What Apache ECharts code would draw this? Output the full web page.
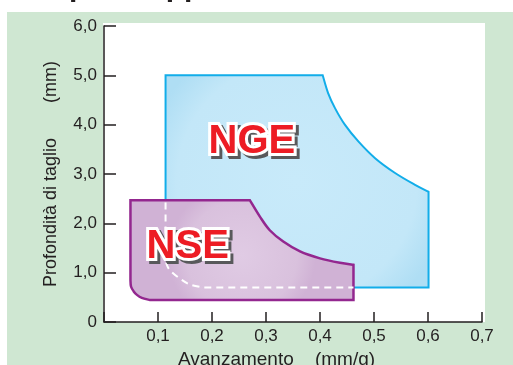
<!DOCTYPE html>
<html><head><meta charset="utf-8">
<script src="https://cdn.jsdelivr.net/npm/echarts@6/dist/echarts.min.js"></script>
<style>html,body{margin:0;padding:0;background:#fff}#c{width:513px;height:365px}</style>
</head><body><div id="c"></div>
<script>
// tick labels
const xTickLabels = ['', '0,1', '0,2', '0,3', '0,4', '0,5', '0,6', '0,7'];
const yTickLabels = ['0', '1,0', '2,0', '3,0', '4,0', '5,0', '6,0'];

// NGE region boundary (feed mm/g, depth mm)
const ngeX = [0.114, 0.405, 0.415, 0.428, 0.446, 0.471, 0.502, 0.539, 0.576, 0.601, 0.601, 0.184, 0.159, 0.138, 0.122, 0.116, 0.114];
const ngeY = [5.00, 5.00, 4.64, 4.33, 4.00, 3.66, 3.32, 3.02, 2.78, 2.64, 0.70, 0.70, 0.76, 0.90, 1.05, 1.17, 1.32];

// NSE region boundary
const nseX = [0.049, 0.270, 0.289, 0.307, 0.332, 0.363, 0.400, 0.437, 0.462, 0.462, 0.085, 0.070, 0.061, 0.055, 0.050, 0.049];
const nseY = [2.47, 2.47, 2.13, 1.86, 1.63, 1.43, 1.29, 1.20, 1.16, 0.446, 0.446, 0.49, 0.55, 0.62, 0.72, 0.85];

// hidden part of NGE boundary (dashed, over NSE)
const dashX = [0.114, 0.114, 0.116, 0.122, 0.138, 0.159, 0.184, 0.462];
const dashY = [2.42, 1.32, 1.17, 1.05, 0.90, 0.76, 0.70, 0.70];

// region labels
const labelNames = ['NGE', 'NSE'];
const labelX = [0.274, 0.155];
const labelY = [3.65, 1.52];

const FONT = '"Liberation Sans", Arial, Helvetica, sans-serif';
const INK = '#231f20';

const chart = echarts.init(document.getElementById('c'), null, {renderer: 'canvas'});

function pts(api, xs, ys) {
  return xs.map((x, i) => api.coord([x, ys[i]]));
}
// straight edges, Catmull-Rom curves on the given index runs
function buildPath(P, runs, close) {
  let d = 'M' + P[0][0] + ' ' + P[0][1];
  for (let i = 0; i < P.length - 1; i++) {
    const run = runs.find(r => i >= r[0] && i < r[1]);
    const c = P[i + 1];
    if (run) {
      const a = P[Math.max(i - 1, run[0])], b = P[i], e = P[Math.min(i + 2, run[1])];
      const c1 = [b[0] + (c[0] - a[0]) / 6, b[1] + (c[1] - a[1]) / 6];
      const c2 = [c[0] - (e[0] - b[0]) / 6, c[1] - (e[1] - b[1]) / 6];
      d += ' C' + c1[0] + ' ' + c1[1] + ' ' + c2[0] + ' ' + c2[1] + ' ' + c[0] + ' ' + c[1];
    } else {
      d += ' L' + c[0] + ' ' + c[1];
    }
  }
  if (close) d += ' Z';
  return d;
}

const option = {
  backgroundColor: '#ffffff',
  animation: false,
  graphic: [
    {type: 'rect', z: -20, silent: true, shape: {x: 7, y: 12, width: 506, height: 353}, style: {fill: '#cfe7d2'}},
    {type: 'rect', z: -19, silent: true, shape: {x: 103, y: 23, width: 382, height: 299}, style: {fill: '#ffffff'}},
    {type: 'text', z: 50, x: 4, y: -12, style: {text: 'Campo di applicazione', font: 'bold 30px ' + FONT, fill: '#231f20', align: 'left', verticalAlign: 'middle'}}
  ],
  grid: {left: 104, right: 31, top: 26, bottom: 43, containLabel: false, outerBoundsMode: 'none'},
  xAxis: {
    type: 'value', min: 0, max: 0.7, interval: 0.1,
    name: 'Avanzamento    (mm/g)', nameLocation: 'middle', nameGap: 23,
    nameTextStyle: {color: INK, fontSize: 19, fontFamily: FONT, padding: [0, 33, 0, 0]},
    axisLine: {show: true, onZero: false, lineStyle: {color: INK, width: 1.5}},
    axisTick: {show: true, inside: true, length: 10, lineStyle: {color: INK, width: 1.5}},
    splitLine: {show: false},
    axisLabel: {color: INK, fontSize: 17, fontFamily: FONT, margin: 6,
      formatter: v => xTickLabels[Math.round(v / 0.1)] || ''}
  },
  yAxis: {
    type: 'value', min: 0, max: 6, interval: 1,
    name: 'Profondità di taglio       (mm)', nameLocation: 'middle', nameGap: 44,
    nameTextStyle: {color: INK, fontSize: 18, fontFamily: FONT},
    axisLine: {show: true, onZero: false, lineStyle: {color: INK, width: 1.5}},
    axisTick: {show: true, inside: true, length: 12, lineStyle: {color: INK, width: 1.5}},
    splitLine: {show: false},
    axisLabel: {color: INK, fontSize: 17, fontFamily: FONT, margin: 7,
      formatter: v => yTickLabels[Math.round(v)] || ''}
  },
  series: [
    {
      type: 'custom', name: 'NGE', data: [[0, 0]], z: 2, silent: true,
      renderItem: (params, api) => ({
        type: 'path',
        shape: {pathData: buildPath(pts(api, ngeX, ngeY), [[1, 9], [11, 16]], true)},
        style: {
          fill: new echarts.graphic.RadialGradient(0.5, 0.5, 0.72, [
            {offset: 0, color: '#c8eafa'}, {offset: 0.78, color: '#c3e7f8'}, {offset: 1, color: '#afdef4'}
          ]),
          stroke: '#12ade9', lineWidth: 2, lineJoin: 'miter'
        }
      })
    },
    {
      type: 'custom', name: 'NSE', data: [[0, 0]], z: 3, silent: true,
      renderItem: (params, api) => ({
        type: 'path',
        shape: {pathData: buildPath(pts(api, nseX, nseY), [[1, 8], [10, 15]], true)},
        style: {
          fill: new echarts.graphic.RadialGradient(0.5, 0.55, 0.72, [
            {offset: 0, color: '#e0cbe4'}, {offset: 0.75, color: '#d9c1dd'}, {offset: 1, color: '#d0b2d5'}
          ]),
          stroke: '#93278f', lineWidth: 2.5, lineJoin: 'miter'
        }
      })
    },
    {
      type: 'custom', name: 'NGE hidden edge', data: [[0, 0]], z: 4, silent: true,
      renderItem: (params, api) => ({
        type: 'path',
        shape: {pathData: buildPath(pts(api, dashX, dashY), [[1, 6]], false)},
        style: {fill: null, stroke: '#ffffff', lineWidth: 2, lineDash: [7, 5]}
      })
    },
    {
      type: 'custom', name: 'labels', z: 5, silent: true,
      data: labelNames.map((n, i) => [labelX[i], labelY[i], n]),
      encode: {x: 0, y: 1},
      renderItem: (params, api) => {
        const p = api.coord([api.value(0), api.value(1)]);
        const t = labelNames[params.dataIndex];
        const f = 'bold 40px ' + FONT;
        return {
          type: 'group',
          children: [
            {type: 'text', x: p[0] + 3, y: p[1] + 3, style: {text: t, font: f, fill: '#58595b', stroke: '#58595b', lineWidth: 6, align: 'center', verticalAlign: 'middle'}},
            {type: 'text', x: p[0], y: p[1], style: {text: t, font: f, fill: '#ffffff', stroke: '#ffffff', lineWidth: 6, align: 'center', verticalAlign: 'middle'}},
            {type: 'text', x: p[0], y: p[1], style: {text: t, font: f, fill: '#ed1c24', align: 'center', verticalAlign: 'middle'}}
          ]
        };
      }
    }
  ]
};
chart.setOption(option);
</script>
</body></html>
